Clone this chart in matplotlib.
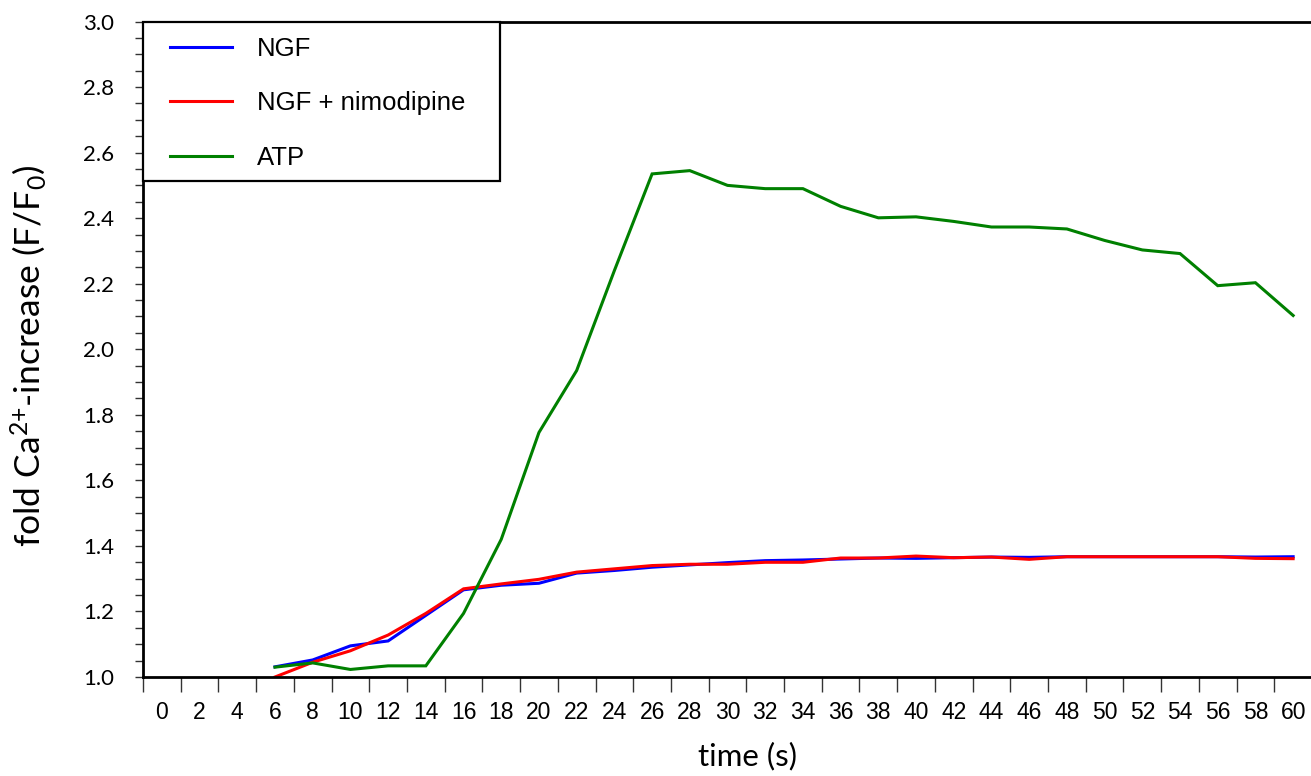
import matplotlib
matplotlib.use("Agg")
import matplotlib.pyplot as plt
from matplotlib.ticker import FixedLocator, MultipleLocator
from matplotlib.patches import Rectangle
import numpy as np

# ---- data ----
time_labels = [str(t) for t in range(0, 62, 2)]          # 0..60 categorical axis
data_times = list(range(6, 62, 2))                        # 6..60 s

ngf = [1.031, 1.052, 1.095, 1.110, 1.188, 1.266, 1.280, 1.286, 1.317, 1.325,
       1.335, 1.342, 1.349, 1.355, 1.357, 1.360, 1.363, 1.362, 1.364, 1.366,
       1.365, 1.367, 1.367, 1.367, 1.367, 1.367, 1.366, 1.367]
ngf_nimo = [1.000, 1.045, 1.080, 1.128, 1.194, 1.269, 1.284, 1.298, 1.320, 1.330,
            1.340, 1.344, 1.344, 1.350, 1.350, 1.363, 1.363, 1.369, 1.364, 1.366,
            1.359, 1.367, 1.367, 1.367, 1.367, 1.367, 1.362, 1.361]
atp = [1.030, 1.043, 1.023, 1.034, 1.034, 1.194, 1.420, 1.746, 1.935, 2.240,
       2.535, 2.545, 2.500, 2.490, 2.490, 2.436, 2.401, 2.404, 2.390, 2.373,
       2.373, 2.367, 2.332, 2.303, 2.292, 2.194, 2.203, 2.103]

series_names = ["NGF", "NGF + nimodipine", "ATP"]
series_colors = ["#0000ff", "#ff0000", "#008000"]

# ---- figure ----
plt.rcParams["mathtext.fontset"] = "custom"
plt.rcParams["mathtext.rm"] = "Lato"
plt.rcParams["mathtext.default"] = "rm"

fig = plt.figure(figsize=(13.11, 7.76), dpi=100)
ax = fig.add_axes([143 / 1311, 1 - 677 / 776, (1312 - 143) / 1311, (677 - 21.5) / 776])

cat_index = {lab: i for i, lab in enumerate(time_labels)}
xs = [cat_index[str(t)] for t in data_times]

for vals, name, col in zip([ngf, ngf_nimo, atp], series_names, series_colors):
    ax.plot(xs, vals, color=col, lw=2.2, label=name, solid_joinstyle="miter")

ax.set_xlim(-0.5, len(time_labels) - 0.5)
ax.set_ylim(1.0, 3.0)

# x ticks: labels at category centres, tick marks at boundaries
ax.xaxis.set_major_locator(FixedLocator(range(len(time_labels))))
ax.set_xticklabels(time_labels, fontfamily="Liberation Sans", fontsize=16.5)
ax.xaxis.set_minor_locator(FixedLocator(np.arange(-0.5, len(time_labels), 1.0)))
ax.tick_params(axis="x", which="major", length=0, pad=17)
ax.tick_params(axis="x", which="minor", length=11, width=1.0, color="#333333")

# y ticks
ax.yaxis.set_minor_locator(MultipleLocator(0.05))
ax.set_yticks(np.arange(1.0, 3.01, 0.2))
ax.set_yticklabels([f"{v:.1f}" for v in np.arange(1.0, 3.01, 0.2)],
                   fontfamily="Lato", fontsize=16)
ax.tick_params(axis="y", which="both", length=6, width=1.0, color="#333333", pad=15)

for side in ["left", "bottom", "top"]:
    ax.spines[side].set_linewidth(2.0)
    ax.spines[side].set_color("black")
ax.spines["right"].set_visible(False)

ax.set_xlabel("time (s)", fontfamily="Lato", fontsize=22.5)
ax.xaxis.set_label_coords(0.5175, -0.099)
ax.xaxis.label.set_va("top")
ax.set_ylabel("fold Ca$^{2{+}}$-increase (F/F$_0$)", fontfamily="Lato", fontsize=25.5)
ax.yaxis.set_label_coords(-0.081, 0.49)

# legend box + entries
ax.add_patch(Rectangle((0, (677 - 181) / 655.5), (500 - 143) / 1169, 1 - (677 - 181) / 655.5,
                       transform=ax.transAxes, facecolor="white", edgecolor="black",
                       lw=1.6, clip_on=False, zorder=5))
leg = ax.legend(loc="upper left", bbox_to_anchor=((170 - 143) / 1169, (677 - 37) / 655.5),
                borderaxespad=0, borderpad=0,
                prop={"family": "Liberation Sans", "size": 18.5},
                frameon=False, handlelength=2.4, handletextpad=1.0,
                labelspacing=1.18)
leg.set_zorder(6)

fig.savefig("out.png", dpi=100)
